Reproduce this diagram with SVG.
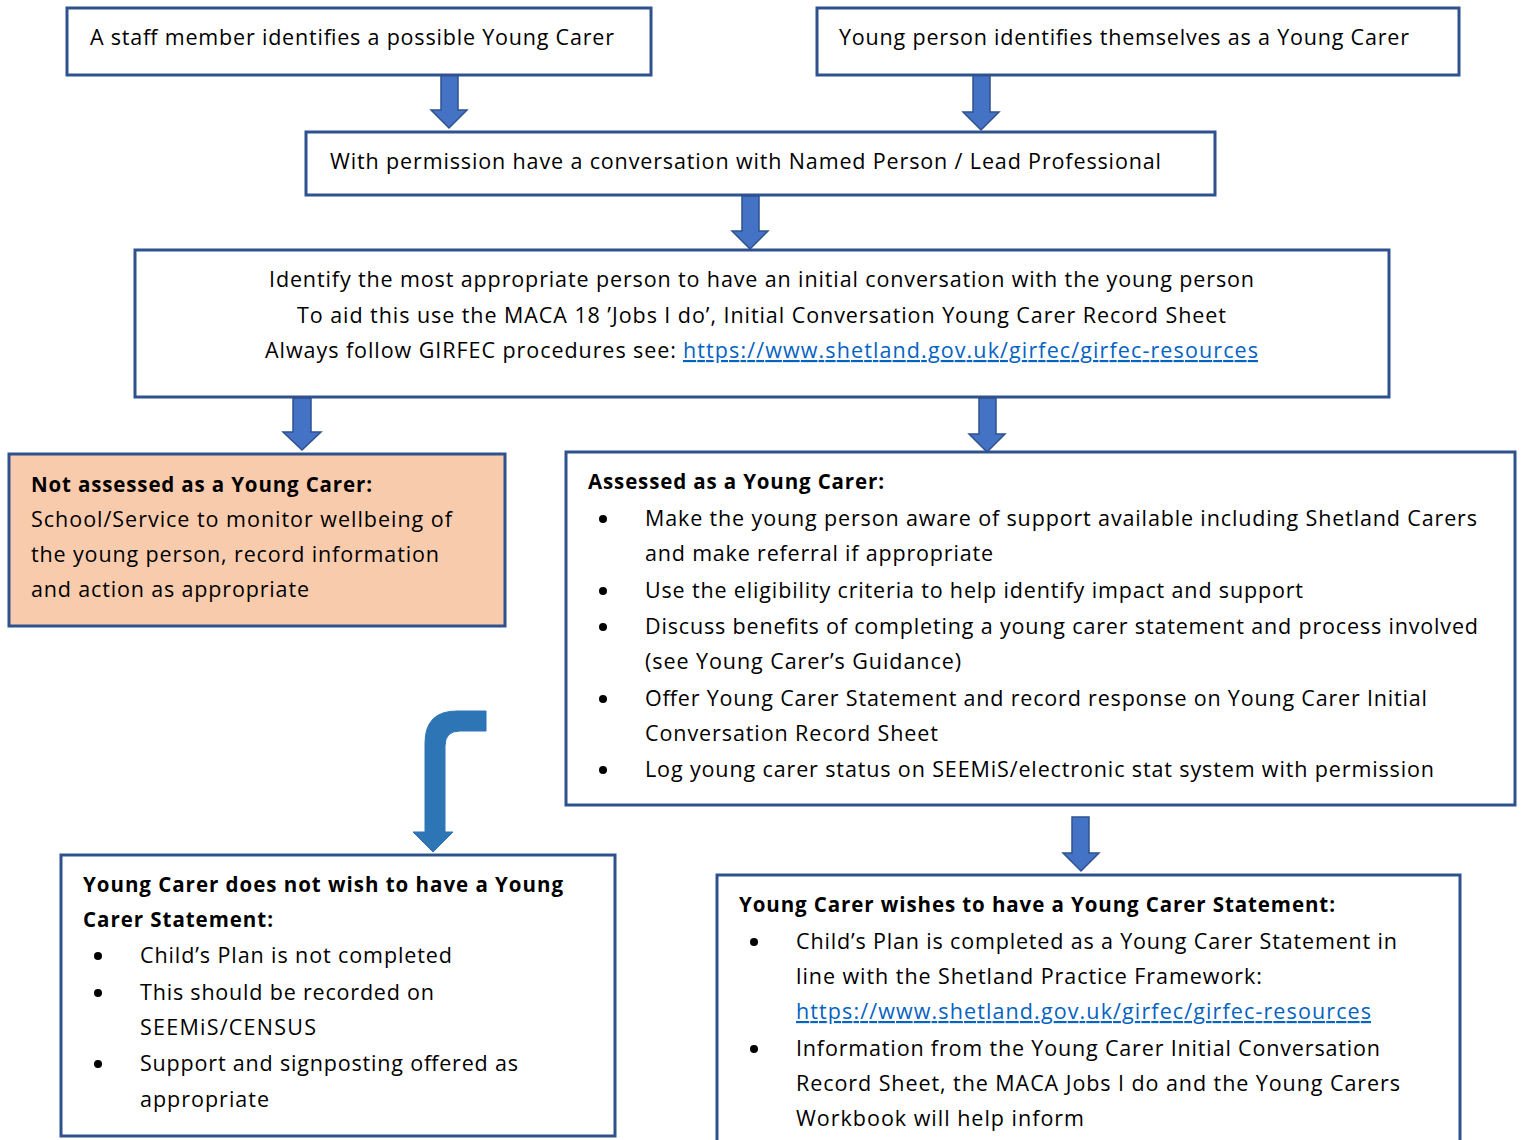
<svg xmlns="http://www.w3.org/2000/svg" width="1522" height="1140" viewBox="0 0 1522 1140">
<style>
.box{fill:#fff;stroke:#2F528F;stroke-width:3}
.org{fill:#F8CBAD;stroke:#2F528F;stroke-width:3}
.arr{fill:#4472C4;stroke:#2F528F;stroke-width:1.5}
.carr{fill:#2E75B6;stroke:#2E75B6;stroke-width:1}
text{font-family:"Open Sans","Noto Sans","Liberation Sans",sans-serif;font-size:21.5px;fill:#000}
.b{font-weight:bold;font-size:20.5px}
.lnk{fill:#0563C1;text-decoration:underline}
.bul{fill:#000}
</style>
<rect width="1522" height="1140" fill="#fff"/>
<g id="connectors">
<path class="arr" d="M441,75 V110 H431 L449,128 L467,110 H458 V75 Z"/>
<path class="arr" d="M973,75 V112 H963 L981,130 L999,112 H990 V75 Z"/>
<path class="arr" d="M742,196 V231 H732 L750,249 L768,231 H759 V196 Z"/>
<path class="arr" d="M293,398 V432 H283 L302,450 L321,432 H311 V398 Z"/>
<path class="arr" d="M979,398 V434 H969 L987,452 L1005,434 H996 V398 Z"/>
<path class="arr" d="M1072,817 V853 H1063 L1081,871 L1099,853 H1089 V817 Z"/>
<path class="carr" d="M486,711 H457 Q425,711 425,743 V832 H413 L433,852 L453,832 H445 V746 Q445,731 460,731 H486 Z"/>
</g>
<g id="n1">
<rect class="box" x="67" y="8" width="584" height="67"/>
<text x="90" y="45" textLength="524">A staff member identifies a possible Young Carer</text>
</g>
<g id="n2">
<rect class="box" x="817" y="8" width="642" height="67"/>
<text x="839" y="45" textLength="570">Young person identifies themselves as a Young Carer</text>
</g>
<g id="n3">
<rect class="box" x="306" y="132" width="909" height="63"/>
<text x="330" y="169" textLength="831">With permission have a conversation with Named Person / Lead Professional</text>
</g>
<g id="n4">
<rect class="box" x="135" y="250" width="1254" height="147"/>
<text x="269" y="287" textLength="985">Identify the most appropriate person to have an initial conversation with the young person</text>
<text x="297" y="323" textLength="929">To aid this use the MACA 18 ’Jobs I do’, Initial Conversation Young Carer Record Sheet</text>
<text x="265" y="358" textLength="411">Always follow GIRFEC procedures see:</text>
<text class="lnk" x="683" y="358" textLength="575">https://www.shetland.gov.uk/girfec/girfec-resources</text>
</g>
<g id="n5">
<rect class="org" x="9" y="454" width="496" height="172"/>
<text class="b" x="31" y="492" textLength="341">Not assessed as a Young Carer:</text>
<text x="31" y="527" textLength="421">School/Service to monitor wellbeing of</text>
<text x="31" y="562" textLength="408">the young person, record information</text>
<text x="31" y="597" textLength="278">and action as appropriate</text>
</g>
<g id="n6">
<rect class="box" x="566" y="452" width="949" height="353"/>
<text class="b" x="588" y="489" textLength="296">Assessed as a Young Carer:</text>
<circle class="bul" cx="603" cy="519" r="4"/>
<text x="645" y="526" textLength="832">Make the young person aware of support available including Shetland Carers</text>
<text x="645" y="561" textLength="348">and make referral if appropriate</text>
<circle class="bul" cx="603" cy="591" r="4"/>
<text x="645" y="598" textLength="658">Use the eligibility criteria to help identify impact and support</text>
<circle class="bul" cx="603" cy="627" r="4"/>
<text x="645" y="634" textLength="833">Discuss benefits of completing a young carer statement and process involved</text>
<text x="645" y="669" textLength="316">(see Young Carer’s Guidance)</text>
<circle class="bul" cx="603" cy="699" r="4"/>
<text x="645" y="706" textLength="782">Offer Young Carer Statement and record response on Young Carer Initial</text>
<text x="645" y="741" textLength="293">Conversation Record Sheet</text>
<circle class="bul" cx="603" cy="770" r="4"/>
<text x="645" y="777" textLength="789">Log young carer status on SEEMiS/electronic stat system with permission</text>
</g>
<g id="n7">
<rect class="box" x="61" y="855" width="554" height="281"/>
<text class="b" x="83" y="892" textLength="480">Young Carer does not wish to have a Young</text>
<text class="b" x="83" y="927" textLength="190">Carer Statement:</text>
<circle class="bul" cx="98" cy="956" r="4"/>
<text x="140" y="963" textLength="312">Child’s Plan is not completed</text>
<circle class="bul" cx="98" cy="993" r="4"/>
<text x="140" y="1000" textLength="294">This should be recorded on</text>
<text x="140" y="1035" textLength="176">SEEMiS/CENSUS</text>
<circle class="bul" cx="98" cy="1064" r="4"/>
<text x="140" y="1071" textLength="378">Support and signposting offered as</text>
<text x="140" y="1107" textLength="129">appropriate</text>
</g>
<g id="n8">
<rect class="box" x="717" y="875" width="743" height="280"/>
<text class="b" x="739" y="912" textLength="596">Young Carer wishes to have a Young Carer Statement:</text>
<circle class="bul" cx="754" cy="942" r="4"/>
<text x="796" y="949" textLength="601">Child’s Plan is completed as a Young Carer Statement in</text>
<text x="796" y="984" textLength="466">line with the Shetland Practice Framework:</text>
<text class="lnk" x="796" y="1019" textLength="575">https://www.shetland.gov.uk/girfec/girfec-resources</text>
<circle class="bul" cx="754" cy="1049" r="4"/>
<text x="796" y="1056" textLength="584">Information from the Young Carer Initial Conversation</text>
<text x="796" y="1091" textLength="604">Record Sheet, the MACA Jobs I do and the Young Carers</text>
<text x="796" y="1126" textLength="288">Workbook will help inform</text>
</g>
</svg>
